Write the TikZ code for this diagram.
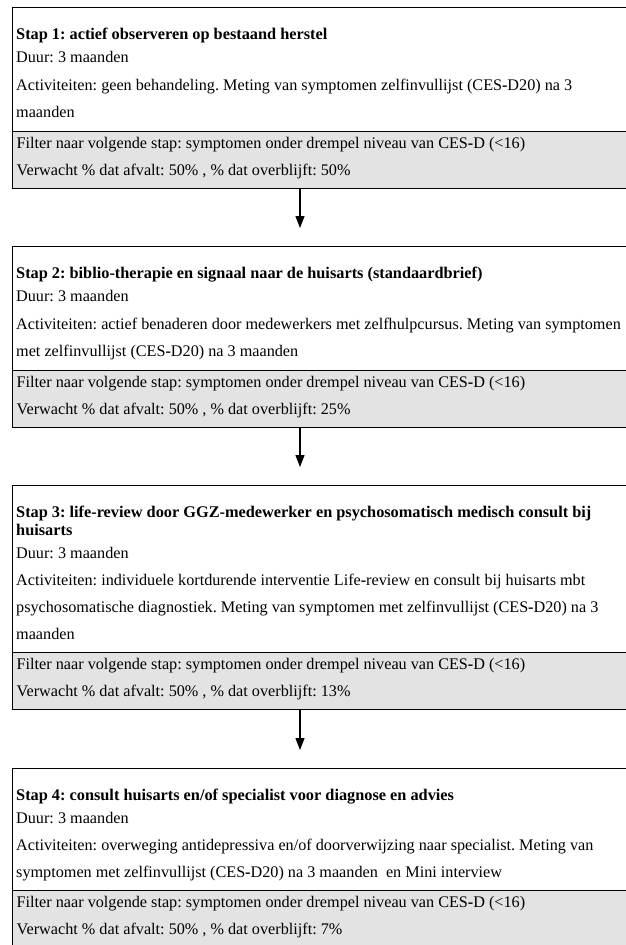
\documentclass[tikz,border=0pt]{standalone}
\usepackage{fontspec}
\setmainfont{Liberation Serif}
\usetikzlibrary{arrows.meta}
\newcommand{\hy}{\textbf{-}}
\frenchspacing
\begin{document}
\begin{tikzpicture}[x=1pt,y=-1pt,
  txt/.style={anchor=base west, inner sep=0pt, font=\fontsize{16.2}{18}\selectfont},
  ttl/.style={anchor=base west, inner sep=0pt, font=\fontsize{16.3}{18}\selectfont\bfseries},
  body/.style={draw, line width=1.2pt, minimum width=660pt, anchor=north west, inner sep=0pt},
  band/.style={body, fill=black!11},
  arr/.style={line width=1.3pt, -{Triangle[width=9pt,length=12pt]}}
]
\useasboundingbox (0,0) rectangle (625,945);
\coordinate (ax) at (300,0);

% ---- Stap 1
\node[body, minimum height=124pt] (b1) at (12,7) {};
\node[band, minimum height=57pt] (f1) at (12,131) {};
\node[ttl] (t1) at (16,39) {Stap 1: actief observeren op bestaand herstel};
\node[txt] (d1) at (16,62) {Duur: 3 maanden};
\node[txt] (a1) at (16,90) {Activiteiten: geen behandeling. Meting van symptomen zelfinvullijst (CES\hy D20) na 3};
\node[txt] (a1b) at (16,117) {maanden};
\node[txt] (g1) at (16.5,148) {Filter naar volgende stap: symptomen onder drempel niveau van CES\hy D (<16)};
\node[txt] (v1) at (16.5,175) {Verwacht \% dat afvalt: 50\% , \% dat overblijft: 50\%};

% ---- Stap 2
\node[body, minimum height=124pt] (b2) at (12,246) {};
\node[band, minimum height=57pt] (f2) at (12,370) {};
\node[ttl] (t2) at (16,278) {Stap 2: biblio-therapie en signaal naar de huisarts (standaardbrief)};
\node[txt] (d2) at (16,301) {Duur: 3 maanden};
\node[txt] (a2) at (16,329) {Activiteiten: actief benaderen door medewerkers met zelfhulpcursus. Meting van symptomen};
\node[txt] (a2b) at (16,356) {met zelfinvullijst (CES\hy D20) na 3 maanden};
\node[txt] (g2) at (16.5,387) {Filter naar volgende stap: symptomen onder drempel niveau van CES\hy D (<16)};
\node[txt] (v2) at (16.5,414) {Verwacht \% dat afvalt: 50\% , \% dat overblijft: 25\%};

% ---- Stap 3
\node[body, minimum height=167pt] (b3) at (12,485) {};
\node[band, minimum height=57pt] (f3) at (12,652) {};
\node[ttl] (t3) at (16,517) {Stap 3: life-review door GGZ-medewerker en psychosomatisch medisch consult bij};
\node[ttl] (t3b) at (16,535) {huisarts};
\node[txt] (d3) at (16,558) {Duur: 3 maanden};
\node[txt] (a3) at (16,585) {Activiteiten: individuele kortdurende interventie Life\hy review en consult bij huisarts mbt};
\node[txt] (a3b) at (16,612) {psychosomatische diagnostiek. Meting van symptomen met zelfinvullijst (CES\hy D20) na 3};
\node[txt] (a3c) at (16,639) {maanden};
\node[txt] (g3) at (16.5,669) {Filter naar volgende stap: symptomen onder drempel niveau van CES\hy D (<16)};
\node[txt] (v3) at (16.5,696) {Verwacht \% dat afvalt: 50\% , \% dat overblijft: 13\%};

% ---- Stap 4
\node[body, minimum height=122pt] (b4) at (12,768) {};
\node[band, minimum height=57pt] (f4) at (12,890) {};
\node[ttl] (t4) at (16,800) {Stap 4: consult huisarts en/of specialist voor diagnose en advies};
\node[txt] (d4) at (16,823) {Duur: 3 maanden};
\node[txt] (a4) at (16,850) {Activiteiten: overweging antidepressiva en/of doorverwijzing naar specialist. Meting van};
\node[txt] (a4b) at (16,877) {symptomen met zelfinvullijst (CES\hy D20) na 3 maanden\ \ en Mini interview};
\node[txt] (g4) at (16.5,907) {Filter naar volgende stap: symptomen onder drempel niveau van CES\hy D (<16)};
\node[txt] (v4) at (16.5,934) {Verwacht \% dat afvalt: 50\% , \% dat overblijft: 7\%};

% ---- arrows
\coordinate (e1) at (300,228);
\coordinate (e2) at (300,467);
\coordinate (e3) at (300,750);
\draw[arr] (f1.south -| ax) -- (e1);
\draw[arr] (f2.south -| ax) -- (e2);
\draw[arr] (f3.south -| ax) -- (e3);
\end{tikzpicture}
\end{document}
